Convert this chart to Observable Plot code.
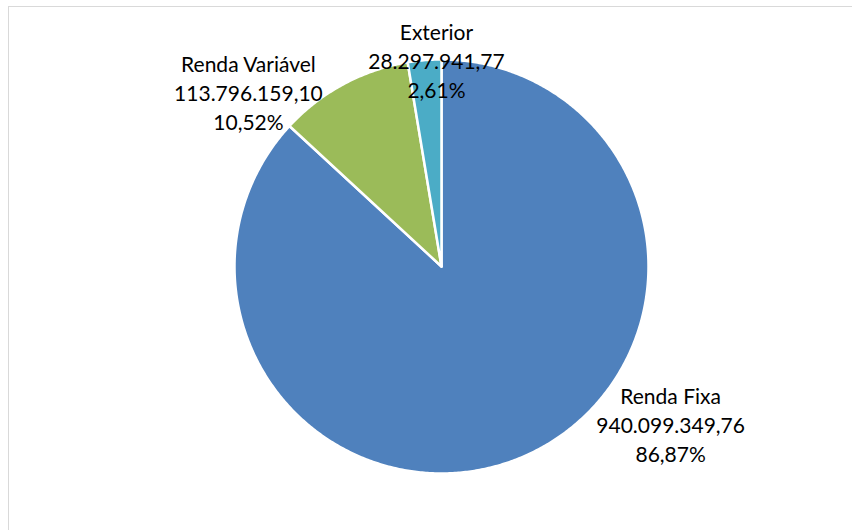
<!DOCTYPE html>
<html>
<head>
<meta charset="utf-8">
<script src="https://cdn.jsdelivr.net/npm/d3@7"></script>
<script src="https://cdn.jsdelivr.net/npm/@observablehq/plot@0.6"></script>
<style>
  html, body { margin: 0; padding: 0; background: #fff; }
  #wrap { position: relative; width: 852px; height: 530px; overflow: hidden; }
  #border { position: absolute; left: 8px; top: 6px; width: 900px; height: 600px; border: 1.5px solid #d9d9d9; box-sizing: border-box; }
  #chart { position: absolute; left: 0; top: 0; }
</style>
</head>
<body>
<div id="wrap"><div id="border"></div><div id="chart"></div></div>
<script>
// Data
const categories = ["Renda Fixa", "Renda Variável", "Exterior"];
const values = [940099349.76, 113796159.10, 28297941.77];
const valueLabels = ["940.099.349,76", "113.796.159,10", "28.297.941,77"];
const percentLabels = ["86,87%", "10,52%", "2,61%"];

// Layout / style
const W = 852, H = 530;
const cx = 441, cy = 266, R = 207;
const colors = ["#4F81BD", "#9BBB59", "#4BACC6"];
// label placement (polar: angle in degrees clockwise from 12 o'clock, distance in radii)
const labelPlacement = [
  {angle: 124.5, dist: 1.343},
  {angle: 312.1, dist: 1.257},
  {angle: -1.4, dist: 0.998}
];

const rows = categories.map((name, i) => ({name, value: values[i], vLabel: valueLabels[i], pLabel: percentLabels[i]}));
const arcs = d3.pie().sort(null).value(d => d.value)(rows);

const polys = [];
for (const a of arcs) {
  const n = Math.max(4, Math.ceil((a.endAngle - a.startAngle) / (Math.PI / 360)));
  polys.push({name: a.data.name, px: 0, py: 0});
  for (let k = 0; k <= n; k++) {
    const t = a.startAngle + (a.endAngle - a.startAngle) * k / n;
    polys.push({name: a.data.name, px: Math.sin(t), py: Math.cos(t)});
  }
  polys.push({name: a.data.name, px: 0, py: 0});
}

const labels = rows.map((d, i) => {
  const ang = labelPlacement[i].angle * Math.PI / 180;
  return {
    name: d.name,
    lx: Math.sin(ang) * labelPlacement[i].dist,
    ly: Math.cos(ang) * labelPlacement[i].dist,
    text: `${d.name}\n${d.vLabel}\n${d.pLabel}`
  };
});

const plot = Plot.plot({
  width: W,
  height: H,
  margin: 0,
  style: {fontFamily: "Lato, 'Open Sans', sans-serif", background: "transparent"},
  x: {domain: [(0 - cx) / R, (W - cx) / R], range: [0, W], axis: null},
  y: {domain: [(cy - H) / R, cy / R], range: [H, 0], axis: null},
  color: {domain: categories, range: colors},
  marks: [
    Plot.line(polys, {x: "px", y: "py", z: "name", fill: "name", stroke: "#fff", strokeWidth: 2.5, strokeLinejoin: "round", curve: "linear"}),
    Plot.text(labels, {x: "lx", y: "ly", text: "text", fontSize: 21, lineHeight: 1.38, fill: "#000", textAnchor: "middle"})
  ]
});
document.getElementById("chart").appendChild(plot);
</script>
</body>
</html>
